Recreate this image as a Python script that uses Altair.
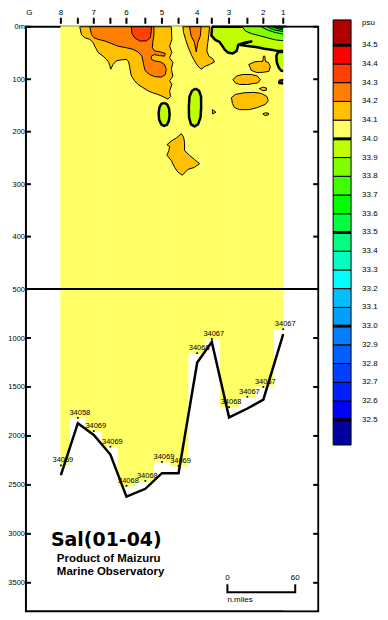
import altair as alt
import pandas as pd

# ------------------------------------------------------------------ data
STATION_NAMES = ["8", "", "7", "", "6", "", "5", "", "4", "", "3", "", "2", "1"]
STATION_NM = [30.9, 45.9, 60.0, 74.7, 88.9, 105.6, 120.3, 135.0, 151.5, 164.4, 179.7, 195.9, 210.0, 227.6]
BOTTOM_M = [2400, 1870, 1990, 2190, 2620, 2540, 2380, 2380, 1250, 1040, 1810, 1720, 1630, 960]
SAMPLE_M = [2300, 1815, 1950, 2110, 2510, 2460, 2265, 2305, 1155, 1010, 1705, 1600, 1500, 910]
SAMPLE_TEXT = ["34059", "34058", "34069", "34069", "34068", "34068", "34069",
               "34069", "34068", "34067", "34068", "34067", "34067", "34067"]
ORIGIN_NAME = "G"
ORIGIN_NM = 3.1

DEPTH_TICKS = [0, 100, 200, 300, 400, 500, 1000, 1500, 2000, 2500, 3000, 3500]
LEVELS = [32.5, 32.6, 32.7, 32.8, 32.9, 33.0, 33.1, 33.2, 33.3, 33.4, 33.5,
          33.6, 33.7, 33.8, 33.9, 34.0, 34.1, 34.2, 34.3, 34.4, 34.5]
THICK_LEVELS = [32.5, 33.0, 33.5, 34.0, 34.5]
COLORS = ["#0000a0", "#0000ff", "#0020ff", "#0040ff", "#0060ff", "#0080ff",
          "#00a0ff", "#00c0ff", "#00ffff", "#00ffc0", "#00ff80", "#00ff40",
          "#00ff00", "#40ff00", "#80ff00", "#c0ff00", "#ffff66", "#ffc000",
          "#ff8000", "#ff4000", "#ff0000", "#b00000"]
SCALE_BAR_NM = [0, 60]
BASE_SAL = 34.05

# contour regions: (salinity band value, [(distance n.miles, depth m), ...])
A1 = (34.15, [(47.6, 0), (49.1, 15), (52.1, 21), (56.5, 24), (59.4, 30), (60.9, 37), (62.4, 43),
              (63.8, 49), (68.2, 56), (71.2, 62), (73.2, 68), (74.1, 74), (75, 81), (77, 72),
              (80, 65), (84.4, 63), (88.9, 62), (90.9, 67), (91.8, 78), (93.3, 94), (96.2, 103),
              (99.1, 110), (103.5, 116), (107.9, 122), (112.3, 126), (116.7, 129), (121.1, 133),
              (125.6, 138), (127.9, 133), (127.1, 122), (129.1, 110), (127.1, 103), (130, 94),
              (128.6, 81), (130, 68), (127.1, 59), (129.1, 49), (127.1, 37), (129.1, 24), (128.6, 0)])
A2 = (34.25, [(56.5, 0), (58, 15), (60.3, 21), (63.8, 24), (69.7, 27), (75.6, 32), (81.4, 37),
              (88.9, 40), (94.7, 43), (99.1, 48), (102.6, 56), (103.5, 65), (104.4, 75), (105.6, 84),
              (109.4, 91), (113.8, 95), (119.7, 96), (123.3, 91), (124.1, 81), (122.6, 72),
              (119.1, 67), (113.8, 65), (110.9, 62), (110.9, 56), (113.8, 53), (118.2, 55),
              (122.6, 56), (123.3, 51), (119.1, 48), (113.8, 46), (111.8, 40), (112.4, 27),
              (113.2, 15), (113.2, 0)])
A3 = (34.35, [(93.2, 0), (93.8, 13), (96.2, 21), (100.6, 27), (106.5, 27), (110, 21), (110.9, 8), (110.9, 0)])
B1 = (34.15, [(138.8, 0), (139.4, 11), (141.2, 24), (143.2, 37), (146.2, 53), (149.1, 65), (152.1, 75),
              (155, 81), (157.9, 76), (162.4, 72), (166.8, 67), (165.3, 61), (161.8, 56), (160, 46),
              (160.9, 30), (161.8, 15), (162.4, 0)])
B2 = (34.25, [(144.7, 0), (146.2, 18), (149.1, 30), (150.6, 48), (152.1, 30), (154.2, 18), (155, 0)])
C1 = (33.95, [(164.6, 0), (164.1, 17), (167.4, 25), (171.2, 29), (173.6, 36), (175.6, 43), (178.5, 49),
              (182.9, 51), (186.4, 46), (187.9, 34), (194.1, 30), (199.4, 28), (194.1, 31), (189.7, 35),
              (197.6, 37), (204.7, 39), (210.9, 42), (217.1, 44), (222.4, 46), (229.5, 46), (229.5, 0)])
C2 = (33.85, [(191.5, 0), (194.1, 8), (199.4, 13), (206.5, 17), (213.5, 21), (220.6, 25), (229.5, 27), (229.5, 0)])
C3 = (33.75, [(208.2, 0), (213.5, 6), (220.6, 11), (229.5, 15), (229.5, 0)])
C4 = (33.65, [(213.5, 0), (219.7, 6), (229.5, 10), (229.5, 0)])
C5 = (33.55, [(217.9, 0), (223.2, 4), (229.5, 7), (229.5, 0)])
C6 = (33.45, [(220.6, 0), (225, 3), (229.5, 5), (229.5, 0)])
C7 = (33.35, [(223.2, 0), (229.5, 3), (229.5, 0)])
C8 = (33.25, [(225, 0), (229.5, 2), (229.5, 0)])
D1 = (33.95, [(223.2, 48), (221.5, 55), (221.9, 68), (223.7, 78), (225.9, 84), (229.5, 85), (229.5, 48)])
D2 = (33.95, [(224.1, 103), (229.5, 101), (229.5, 108), (224.1, 107)])
E1 = (33.95, [(122.2, 145), (124.9, 148), (126.6, 156), (127.1, 167), (126.5, 179), (124.7, 187),
              (122.2, 189), (119.7, 186), (117.8, 177), (117.4, 165), (118, 154), (119.7, 147)])
E2 = (33.95, [(150, 118), (153.1, 122), (154.9, 133), (155, 154), (154.4, 173), (152.2, 186),
              (149.1, 190), (146, 186), (144.3, 173), (144.1, 152), (144.7, 133), (146.9, 122)])
F1 = (34.15, [(197.1, 72), (202.1, 67), (206.5, 66), (209.6, 66), (210, 56), (211.3, 56), (211.8, 66),
              (214.4, 68), (216.2, 76), (214.9, 85), (209.1, 87), (203.8, 87), (199.4, 83)])
F2 = (34.15, [(183.1, 101), (186.2, 94), (191.5, 91), (199.4, 91), (204.7, 94), (207.4, 101),
              (205.1, 107), (195.9, 110), (188.8, 110), (185.3, 107)])
F3 = (34.15, [(206.5, 118), (209.6, 115), (212.9, 117), (212.6, 121), (209.6, 122)])
F4 = (34.15, [(181.8, 135), (185.3, 129), (192.4, 126), (201.2, 125), (208.2, 127), (213.1, 133),
              (214.4, 141), (211.8, 148), (204.7, 154), (197.6, 158), (188.8, 158), (184.4, 154), (182.6, 146)])
F5 = (34.15, [(209.6, 166), (211.8, 164), (214.7, 165), (214.4, 168), (210.9, 169)])
F6 = (34.15, [(165, 158), (168.1, 163), (165, 166)])
G1 = (34.15, [(137.4, 204), (139.4, 210), (140.3, 220), (140.3, 236), (144.7, 245), (149.1, 253),
              (153.5, 261), (149.1, 268), (143.2, 272), (138.3, 283), (134.4, 277), (131.5, 268),
              (128.6, 255), (124.7, 245), (126.4, 236), (127.1, 228), (124.7, 225), (128.6, 218), (133, 212)])
CONTOURS = [A1, A2, A3, B1, B2, C1, C2, C3, C4, C5, C6, C7, C8, D1, D2, E1, E2,
            F1, F2, F3, F4, F5, F6, G1]

# ------------------------------------------------------------------ layout
W, H = 293, 586
SB_START_NM = 178.2          # where the scale bar is placed
FONT = "Liberation Sans"

xs = alt.Scale(domain=[0, 258.5], nice=False, zero=False)
ys = alt.Scale(domain=[0, 500, 3790], range=[0, 263, H], nice=False, zero=False)
fill_scale = alt.Scale(type="threshold", domain=LEVELS, range=COLORS)
cbs = alt.Scale(domain=[32.5, 34.5], range=[394, 18.5], nice=False, zero=False)

yaxis = alt.Axis(values=DEPTH_TICKS, format="d",
                 labelExpr="datum.value == 0 ? '0m' : datum.label",
                 ticks=False, domain=False, grid=False, labelFlush=False,
                 labelFont=FONT, labelFontSize=7.5, labelColor="black",
                 labelPadding=1.5, title=None)


def X(f):
    return alt.X(f, type="quantitative", scale=xs, axis=None)


def Y(f):
    return alt.Y(f, type="quantitative", scale=ys, axis=yaxis)


def FILL(f):
    return alt.Fill(f, type="quantitative", scale=fill_scale, legend=None)


def STROKE(f):
    return alt.Stroke(f, type="quantitative", scale=fill_scale, legend=None)


# ------------------------------------------------------------------ tables
n = len(STATION_NM)
left = [STATION_NM[0]] + [(STATION_NM[i - 1] + STATION_NM[i]) / 2 for i in range(1, n)]
right = [(STATION_NM[i] + STATION_NM[i + 1]) / 2 for i in range(n - 1)] + [STATION_NM[-1]]
st = pd.DataFrame({"nm": STATION_NM, "name": STATION_NAMES, "bottom": BOTTOM_M,
                   "sample": SAMPLE_M, "txt": SAMPLE_TEXT, "x0": left, "x1": right,
                   "top": [0] * n, "sal": [BASE_SAL] * n, "i": list(range(n))})
names = pd.DataFrame({"nm": [ORIGIN_NM] + STATION_NM, "name": [ORIGIN_NAME] + STATION_NAMES})

rows = []
for j, (sal, pts) in enumerate(CONTOURS):
    for k, (xv, dv) in enumerate(pts + [pts[0]]):
        rows.append({"id": f"c{j:02d}", "k": k, "nm": xv, "m": dv, "sal": sal,
                     "lw": 2.5 if 33.9 < sal < 34.0 else 1.0})
poly = pd.DataFrame(rows)

ticks = pd.DataFrame({"d": DEPTH_TICKS})
sb = pd.DataFrame({"v": SCALE_BAR_NM})
sb["nm"] = sb["v"] + SB_START_NM
sb_bar = pd.DataFrame({"a": [SB_START_NM + SCALE_BAR_NM[0]], "b": [SB_START_NM + SCALE_BAR_NM[-1]]})

cb_rows = []
for i in range(len(COLORS)):
    lo = LEVELS[i - 1] if i > 0 else LEVELS[0] - 0.135
    hi = LEVELS[i] if i < len(LEVELS) else LEVELS[-1] + 0.135
    cb_rows.append({"lo": lo, "hi": hi, "mid": (lo + hi) / 2})
cb = pd.DataFrame(cb_rows)
lev = pd.DataFrame({"lev": LEVELS})
thick = pd.DataFrame({"lev": THICK_LEVELS})

# ------------------------------------------------------------------ main layers
base = alt.Chart(st).mark_rect(strokeWidth=1).encode(
    x=X("x0:Q"), x2="x1:Q", y=Y("top:Q"), y2="sample:Q", fill=FILL("sal:Q"), stroke=STROKE("sal:Q"))

contours = alt.Chart(poly).mark_line(stroke="black", strokeJoin="round").encode(
    x=X("nm:Q"), y=Y("m:Q"), detail="id:N", order="k:Q", fill=FILL("sal:Q"),
    strokeWidth=alt.StrokeWidth("lw:Q", scale=None))

mask = alt.Chart(st.tail(1)).mark_rect(color="white").encode(
    x=X("nm:Q"), x2=alt.value(W - 1), y=alt.value(1), y2=alt.value(H - 1))

rule500 = alt.Chart(pd.DataFrame({"d": [500]})).mark_rule(color="black", strokeWidth=2).encode(y=Y("d:Q"))

lticks = alt.Chart(ticks).mark_rule(color="black", strokeWidth=2).encode(
    y=Y("d:Q"), x=alt.value(0), x2=alt.value(5))
rticks = alt.Chart(ticks).mark_rule(color="black", strokeWidth=2).encode(
    y=Y("d:Q"), x=alt.value(W - 5), x2=alt.value(W))

bottom = alt.Chart(st).mark_line(color="black", strokeWidth=2.5, strokeJoin="miter").encode(
    x=X("nm:Q"), y=Y("bottom:Q"), order="i:Q")

dots = alt.Chart(st).mark_square(size=3, color="black", opacity=1).encode(x=X("nm:Q"), y=Y("sample:Q"))
slabels = alt.Chart(st).mark_text(baseline="bottom", dx=2, dy=-1, font=FONT, fontSize=7.5, color="black").encode(
    x=X("nm:Q"), y=Y("sample:Q"), text="txt:N")

sticks = alt.Chart(st).mark_rule(color="black", strokeWidth=2).encode(
    x=X("nm:Q"), y=alt.value(-9), y2=alt.value(-3))
snames = alt.Chart(names).mark_text(baseline="bottom", font=FONT, fontSize=8, color="black").encode(
    x=X("nm:Q"), y=alt.value(-10), text="name:N")

title = alt.Chart(pd.DataFrame({"t": ["Sal(01-04)"]})).mark_text(
    align="left", baseline="alphabetic", font="DejaVu Sans", fontWeight="bold", fontSize=19, color="black"
).encode(x=alt.value(25), y=alt.value(521), text="t:N")
sub1 = alt.Chart(pd.DataFrame({"t": ["Product of Maizuru"]})).mark_text(
    align="left", baseline="alphabetic", font=FONT, fontWeight="bold", fontSize=11.5, color="black"
).encode(x=alt.value(31), y=alt.value(537), text="t:N")
sub2 = alt.Chart(pd.DataFrame({"t": ["Marine Observatory"]})).mark_text(
    align="left", baseline="alphabetic", font=FONT, fontWeight="bold", fontSize=11.5, color="black"
).encode(x=alt.value(31), y=alt.value(550), text="t:N")

sbar = alt.Chart(sb_bar).mark_rule(color="black", strokeWidth=2).encode(x=X("a:Q"), x2="b:Q", y=alt.value(567))
sbends = alt.Chart(sb).mark_rule(color="black", strokeWidth=2).encode(x=X("nm:Q"), y=alt.value(559), y2=alt.value(568))
sblab = alt.Chart(sb).mark_text(baseline="bottom", font=FONT, fontSize=8, color="black").encode(
    x=X("nm:Q"), y=alt.value(557), text="v:N")
sbunit = alt.Chart(sb.head(1)).mark_text(align="left", baseline="middle", font=FONT, fontSize=8,
                                         color="black", text="n.miles").encode(x=X("nm:Q"), y=alt.value(575))

main = alt.layer(base, contours, mask, rule500, lticks, rticks, bottom, dots, slabels,
                 sticks, snames, title, sub1, sub2, sbar, sbends, sblab, sbunit)

# ------------------------------------------------------------------ colour bar
CBX0, CBX1 = 308, 326
cbar = alt.Chart(cb).mark_rect(stroke="black", strokeWidth=1).encode(
    x=alt.value(CBX0), x2=alt.value(CBX1),
    y=alt.Y("lo:Q", scale=cbs, axis=None), y2="hi:Q", fill=FILL("mid:Q"))
cthick = alt.Chart(thick).mark_rule(color="black", strokeWidth=3).encode(
    x=alt.value(CBX0), x2=alt.value(CBX1), y=alt.Y("lev:Q", scale=cbs, axis=None))
clab = alt.Chart(lev).mark_text(align="left", baseline="middle", font=FONT, fontSize=8, color="black").encode(
    x=alt.value(337), y=alt.Y("lev:Q", scale=cbs, axis=None), text=alt.Text("lev:Q", format=".1f"))
cunit = alt.Chart(pd.DataFrame({"u": ["psu"]})).mark_text(
    align="left", baseline="middle", font=FONT, fontSize=8, color="black").encode(
    x=alt.value(337), y=alt.value(-4), text="u:N")
colorbar = alt.layer(cbar, cthick, clab, cunit)

chart = alt.layer(main, colorbar).resolve_scale(y="independent").properties(
    width=W, height=H,
    autosize=alt.AutoSizeParams(type="none"),
    padding={"left": 18, "top": 18, "right": 62, "bottom": 2},
).configure_view(stroke="black", strokeWidth=2)

chart.save("out.html", embed_options={"renderer": "svg", "actions": False})
